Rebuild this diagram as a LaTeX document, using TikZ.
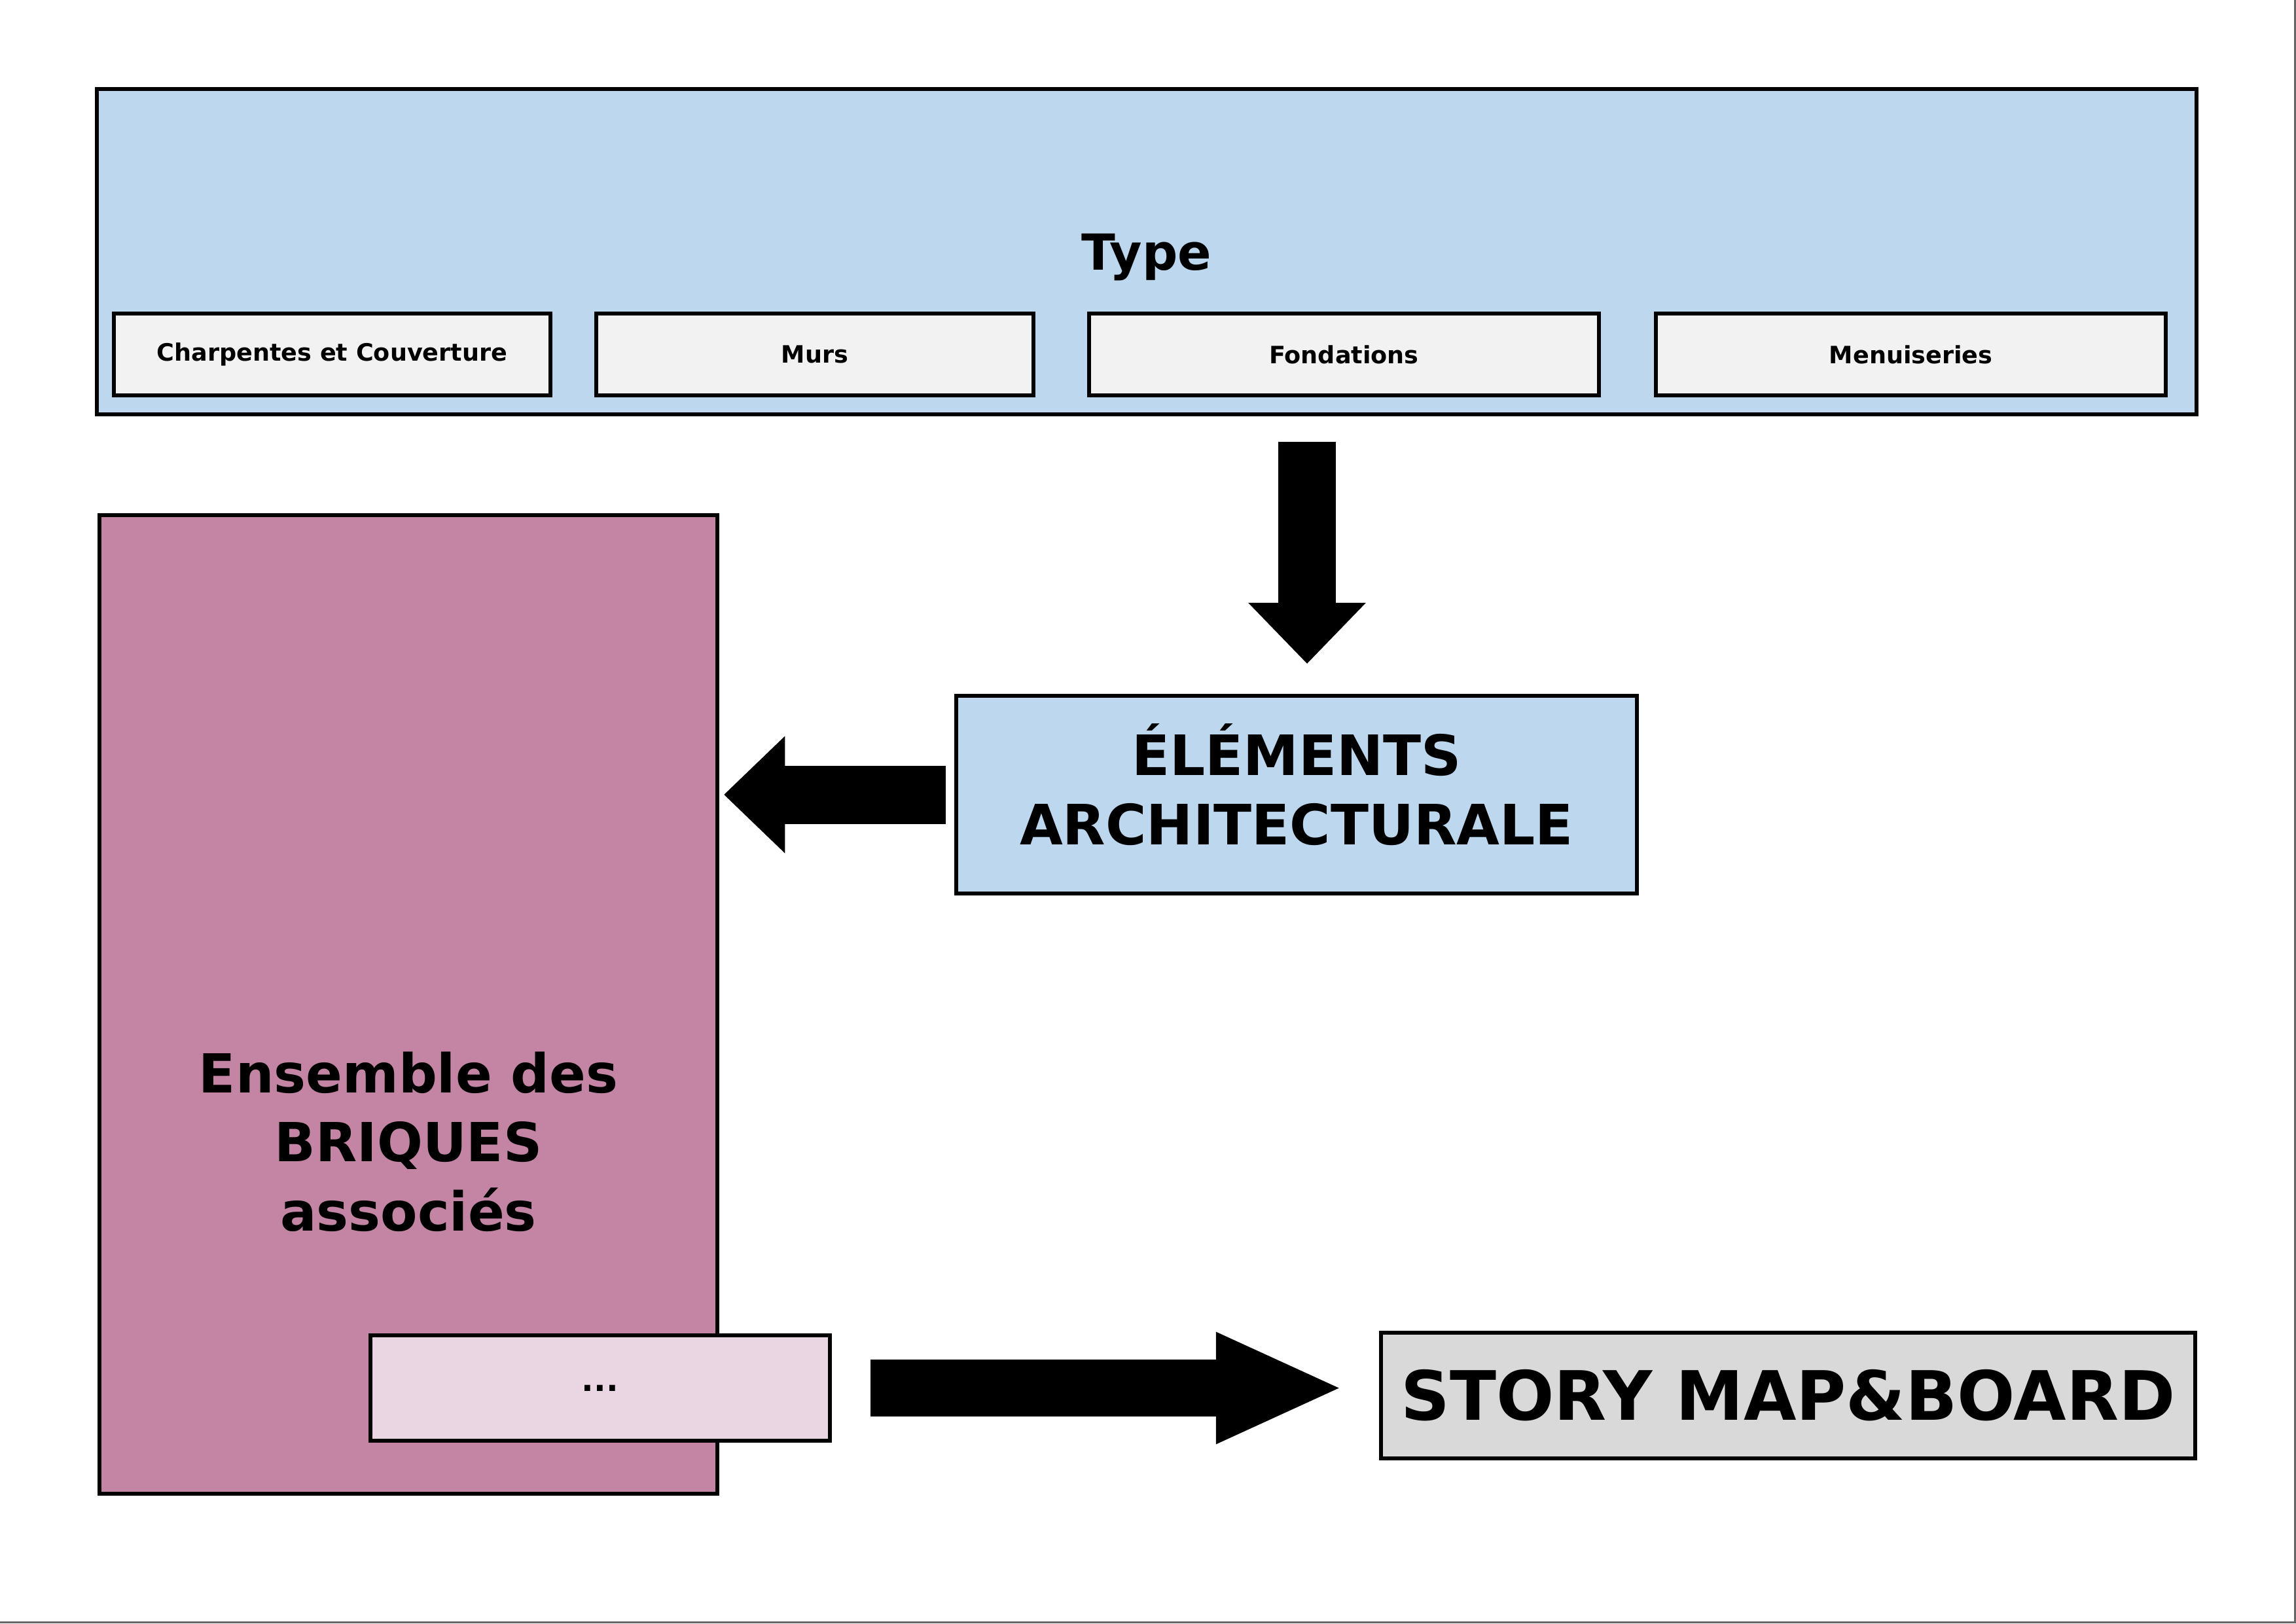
\documentclass[tikz,border=0pt]{standalone}
\usepackage{fontspec}
\setmainfont{DejaVu Sans}
\usetikzlibrary{arrows.meta}
\definecolor{typeblue}{RGB}{189,215,238}
\definecolor{subgray}{RGB}{242,242,242}
\definecolor{brickpink}{RGB}{195,133,163}
\definecolor{dotspink}{RGB}{234,214,226}
\definecolor{storygray}{RGB}{217,217,217}
\tikzset{
  box/.style={draw=black,line width=0.065cm,inner sep=0pt,align=center},
  subbox/.style={box,fill=subgray,minimum height=1.25cm,
    font=\bfseries\fontsize{10.4}{12}\selectfont},
}
\begin{document}
\begin{tikzpicture}
  \useasboundingbox (0,0) rectangle (35.08,-24.80);
  % boxes
  \node[box,fill=typeblue,minimum width=32.08cm,minimum height=4.97cm,text depth=0pt,
    font=\bfseries\fontsize{21.6}{26}\selectfont] (type) at (17.52,-3.845) {Type};
  \node[subbox,minimum width=6.67cm] (charp) at (5.075,-5.415) {Charpentes et Couverture};
  \node[subbox,minimum width=6.68cm] (murs) at (12.45,-5.415) {Murs};
  \node[subbox,minimum width=7.79cm] (fond) at (20.535,-5.415) {Fondations};
  \node[subbox,minimum width=7.79cm] (menu) at (29.195,-5.415) {Menuiseries};
  \node[box,fill=typeblue,minimum width=10.40cm,minimum height=3.02cm,
    font=\bfseries\fontsize{24.2}{30}\selectfont] (elem) at (19.81,-12.14) {\raisebox{0.04cm}{\begin{tabular}{@{}c@{}}ÉLÉMENTS\\ARCHITECTURALE\end{tabular}}};
  \node[box,fill=brickpink,minimum width=9.44cm,minimum height=14.95cm] (briq) at (6.24,-15.345) {};
  \node[align=center,font=\bfseries\fontsize{23.4}{30}\selectfont] (briqtext) at (6.24,-17.44)
    {Ensemble des\\BRIQUES\\associés};
  \node[box,fill=dotspink,minimum width=7.02cm,minimum height=1.61cm,
    font=\bfseries\fontsize{14}{16}\selectfont] (dots) at (9.17,-21.205) {...};
  \node[box,fill=storygray,minimum width=12.44cm,minimum height=1.92cm,
    font=\bfseries\fontsize{29.6}{32}\selectfont] (story) at (27.32,-21.32) {STORY MAP\&BOARD};
  % block arrows
  \coordinate (dn) at (19.97,0);
  \draw[line width=0.88cm,-{Triangle[length=0.93cm,width=1.8cm,line width=0pt]},
    shorten <=0.39cm,shorten >=0.46cm] (dn |- type.south) -- (dn |- elem.north);
  \draw[line width=0.89cm,-{Triangle[length=0.93cm,width=1.79cm,line width=0pt]},
    shorten <=0.13cm,shorten >=0.07cm] (elem.west) -- (elem.west -| briq.east);
  \draw[line width=0.87cm,-{Triangle[length=1.88cm,width=1.72cm,line width=0pt]},
    shorten <=0.59cm,shorten >=0.61cm] (dots.east) -- (dots.east -| story.west);
  % page edge
  \draw[black!60,line width=0.03cm] (35.065,0) -- (35.065,-24.785) -- (0,-24.785);
\end{tikzpicture}
\end{document}
